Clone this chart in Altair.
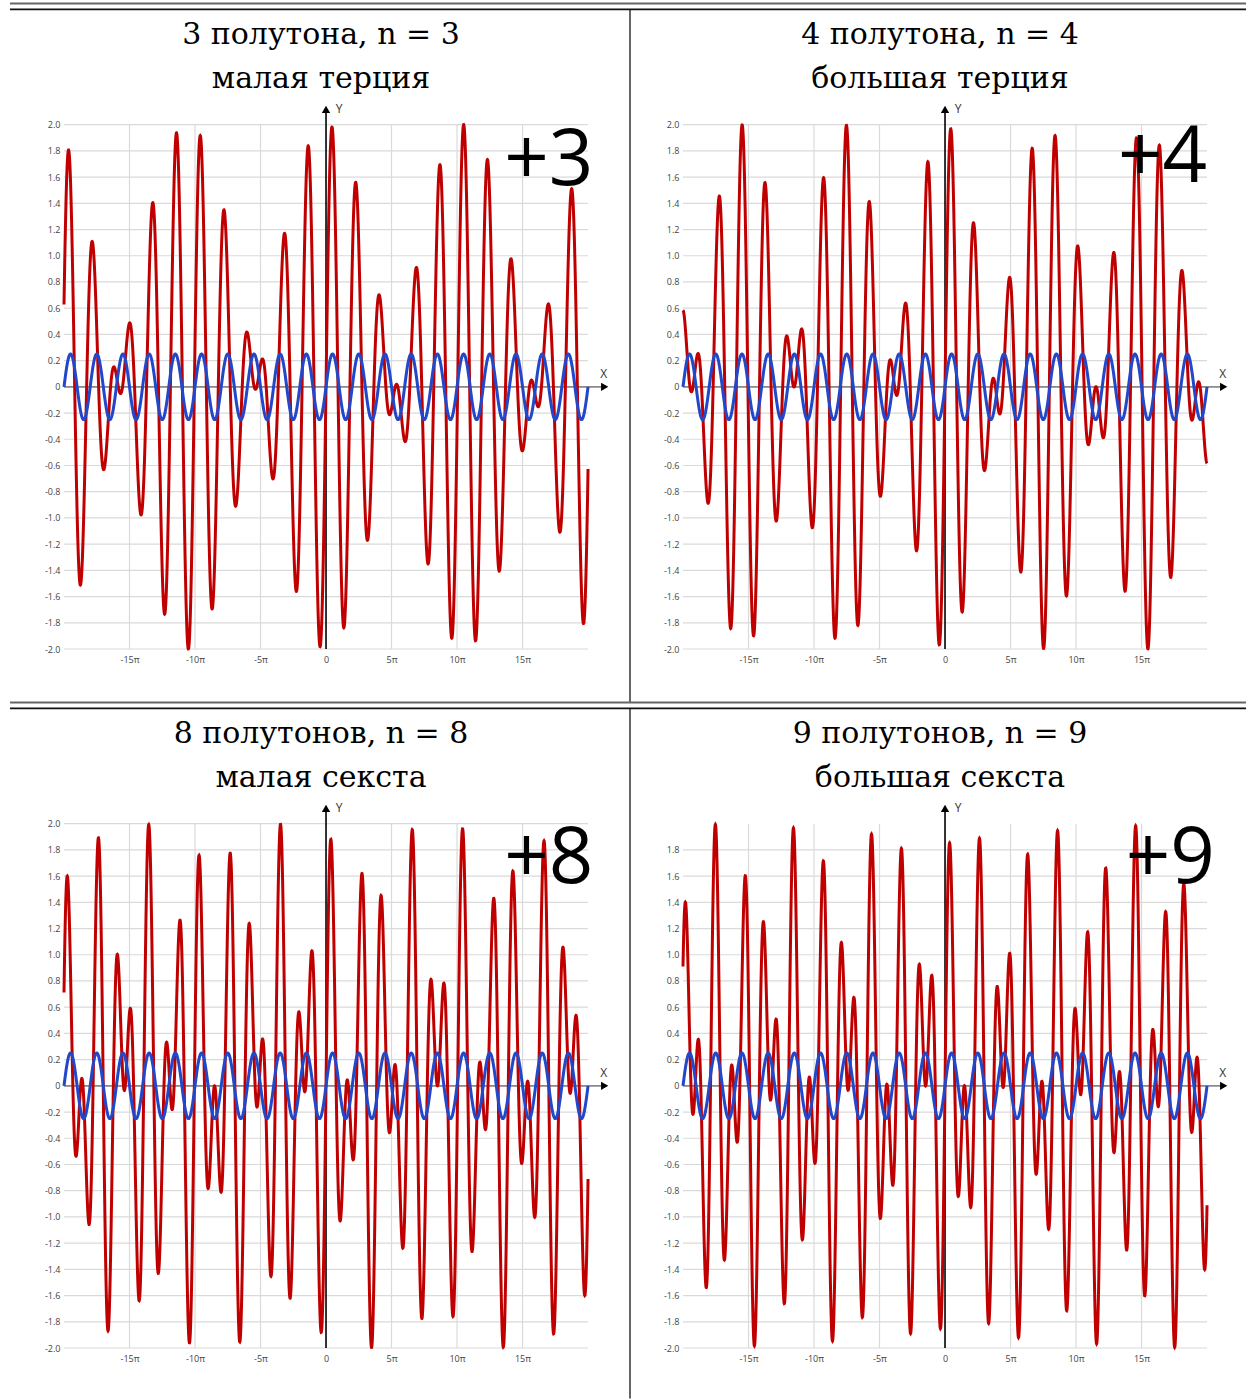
import altair as alt
import pandas as pd

# ---- data -------------------------------------------------------------
SEMITONES = [3, 4, 8, 9]
TITLE_LINES = ["3 полутона, n = 3", "4 полутона, n = 4",
               "8 полутонов, n = 8", "9 полутонов, n = 9"]
INTERVAL_NAMES = ["малая терция", "большая терция", "малая секста", "большая секста"]
BIG_LABELS = ["+3", "+4", "+8", "+9"]
BIG_LABEL_X = [17.0, 16.6, 17.0, 17.2]      # in units of π
BIG_LABEL_Y = [1.54, 1.56, 1.55, 1.55]
Y_TICKS = [-2.0, -1.8, -1.6, -1.4, -1.2, -1.0, -0.8, -0.6, -0.4, -0.2, 0.0,
           0.2, 0.4, 0.6, 0.8, 1.0, 1.2, 1.4, 1.6, 1.8, 2.0]
Y_GRID_TOP = [2.0, 2.0, 2.0, 1.8]
X_TICKS = [-15, -10, -5, 0, 5, 10, 15]
X_GRID = [-15, -10, -5, 5, 10, 15]
X_RANGE = [-20, 20]          # curve range, units of π
BLUE_AMPLITUDE = 0.25

# ---- layout ----------------------------------------------------------
W, H = 545, 544
XD = [-20, 21.6]
YD = [-2, 2.15]
xs = alt.Scale(domain=XD, nice=False, zero=False)
ys = alt.Scale(domain=YD, nice=False, zero=False)

RED = "#c00000"
BLUE = "#2347c9"
GRID = "#dadada"
Y_LABEL_EXPR = "datum.value == 0 ? '0' : replace(format(datum.value, '.1f'), '\u2212', '-')"
X_LABEL_EXPR = "datum.value == 0 ? '0' : replace(format(datum.value, 'd'), '\u2212', '-') + 'π'"

X_AXIS = alt.Axis(values=X_TICKS, labelExpr=X_LABEL_EXPR, domain=False, ticks=False,
                  grid=False, title=None, labelFontSize=9, labelColor="#444",
                  labelFont="Open Sans", labelPadding=6)


def y_axis(vals):
    return alt.Axis(values=vals, labelExpr=Y_LABEL_EXPR, domain=False, ticks=False,
                    grid=False, title=None, labelFontSize=9, labelColor="#444",
                    labelFont="Open Sans", labelPadding=4)


def panel(i):
    n = SEMITONES[i]
    col, row = i % 2, i // 2
    yvals = [v for v in Y_TICKS if v <= Y_GRID_TOP[i] + 1e-9]
    YA = y_axis(yvals)

    def X(field):
        return alt.X(field, scale=xs, axis=X_AXIS)

    def Y(field):
        return alt.Y(field, scale=ys, axis=YA)

    hgrid = alt.Chart(pd.DataFrame({"y": yvals})).mark_rule(
        color=GRID, strokeWidth=1.2).encode(
        y=Y("y:Q"),
        x=alt.XDatum(X_RANGE[0], type="quantitative", scale=xs, axis=X_AXIS),
        x2=alt.X2Datum(X_RANGE[1]),
    )
    vgrid = alt.Chart(pd.DataFrame({"x": X_GRID})).mark_rule(
        color=GRID, strokeWidth=1.2).encode(
        x=X("x:Q"),
        y=alt.YDatum(-2.0, type="quantitative", scale=ys, axis=YA),
        y2=alt.Y2Datum(2.0),
    )
    xaxis = alt.Chart(pd.DataFrame({"y": [0]})).mark_rule(
        color="#8a8a8a", strokeWidth=1.6).encode(
        y=Y("y:Q"),
        x=alt.XDatum(XD[0], type="quantitative", scale=xs, axis=X_AXIS),
        x2=alt.X2Datum(XD[1] - 0.3),
    )
    yaxis = alt.Chart(pd.DataFrame({"x": [0]})).mark_rule(
        color="#000000", strokeWidth=1.6).encode(
        x=X("x:Q"),
        y=alt.YDatum(-2.0, type="quantitative", scale=ys, axis=YA),
        y2=alt.Y2Datum(YD[1] - 0.03),
    )
    arrows = alt.Chart(pd.DataFrame({
        "x": [21.27, 0.0], "y": [0.0, 2.117],
        "s": ["triangle-right", "triangle-up"]})).mark_point(
        filled=True, color="black", opacity=1, size=70).encode(
        x=X("x:Q"), y=Y("y:Q"),
        shape=alt.Shape("s:N", scale=None, legend=None),
    )
    xy_labels = alt.Chart(pd.DataFrame({
        "x": [21.2, 1.0], "y": [0.1, 2.12], "t": ["X", "Y"]})).mark_text(
        font="Open Sans", fontSize=12, color="#333", baseline="middle").encode(
        x=X("x:Q"), y=Y("y:Q"), text="t:N",
    )

    seq = alt.sequence(-20, 20.005, 0.01, as_="t")
    red = alt.Chart(seq).transform_calculate(
        v=f"sin(PI*datum.t) + sin(pow(2, {n}/12)*PI*datum.t)").mark_line(
        color=RED, strokeWidth=3).encode(x=X("t:Q"), y=Y("v:Q"))
    blue = alt.Chart(seq).transform_calculate(
        v=f"{BLUE_AMPLITUDE}*sin(PI*datum.t)").mark_line(
        color=BLUE, strokeWidth=3).encode(x=X("t:Q"), y=Y("v:Q"))
    big = alt.Chart(pd.DataFrame({
        "x": [BIG_LABEL_X[i]], "y": [BIG_LABEL_Y[i]], "t": [BIG_LABELS[i]]})).mark_text(
        font="Open Sans", fontSize=78, color="black", align="center",
        baseline="alphabetic").encode(x=X("x:Q"), y=Y("y:Q"), text="t:N")

    title1 = alt.Chart(pd.DataFrame({"t": [TITLE_LINES[i]]})).mark_text(
        font="DejaVu Serif", fontSize=30, color="black", align="center",
        baseline="alphabetic").encode(
        text="t:N", x=alt.value(257), y=alt.value(-61))
    title2 = alt.Chart(pd.DataFrame({"t": [INTERVAL_NAMES[i]]})).mark_text(
        font="DejaVu Serif", fontSize=30, color="black", align="center",
        baseline="alphabetic").encode(
        text="t:N", x=alt.value(257), y=alt.value(-17))

    # table lines
    lx0, lx1 = (-54, 566) if col == 0 else (-53, 563)
    line_a = alt.Chart(pd.DataFrame({"k": [0]})).mark_rule(
        color="#666", strokeWidth=2).encode(
        x=alt.value(lx0), x2=alt.value(lx1), y=alt.value(-101.4))
    line_b = alt.Chart(pd.DataFrame({"k": [0]})).mark_rule(
        color="#111", strokeWidth=1.6).encode(
        x=alt.value(lx0), x2=alt.value(lx1), y=alt.value(-95.6))
    layers = [line_a, line_b, title1, title2, hgrid, vgrid, xaxis, yaxis,
              red, blue, arrows, xy_labels, big]
    if col == 0:
        vbot = 597.6 if row == 0 else 594.6
        vline = alt.Chart(pd.DataFrame({"k": [0]})).mark_rule(
            color="#666", strokeWidth=2).encode(
            x=alt.value(566), y=alt.value(-95.6), y2=alt.value(vbot))
        layers.insert(0, vline)
    return alt.layer(*layers).properties(width=W, height=H)


chart = alt.concat(
    *[panel(i) for i in range(4)], columns=2,
    spacing={"row": 155, "column": 74}, bounds="flush",
).properties(
    padding={"left": 9, "top": 2, "right": 0, "bottom": 0},
    background="white",
).configure_view(stroke=None)

chart.save("out.html", embed_options={"renderer": "svg", "actions": False})
